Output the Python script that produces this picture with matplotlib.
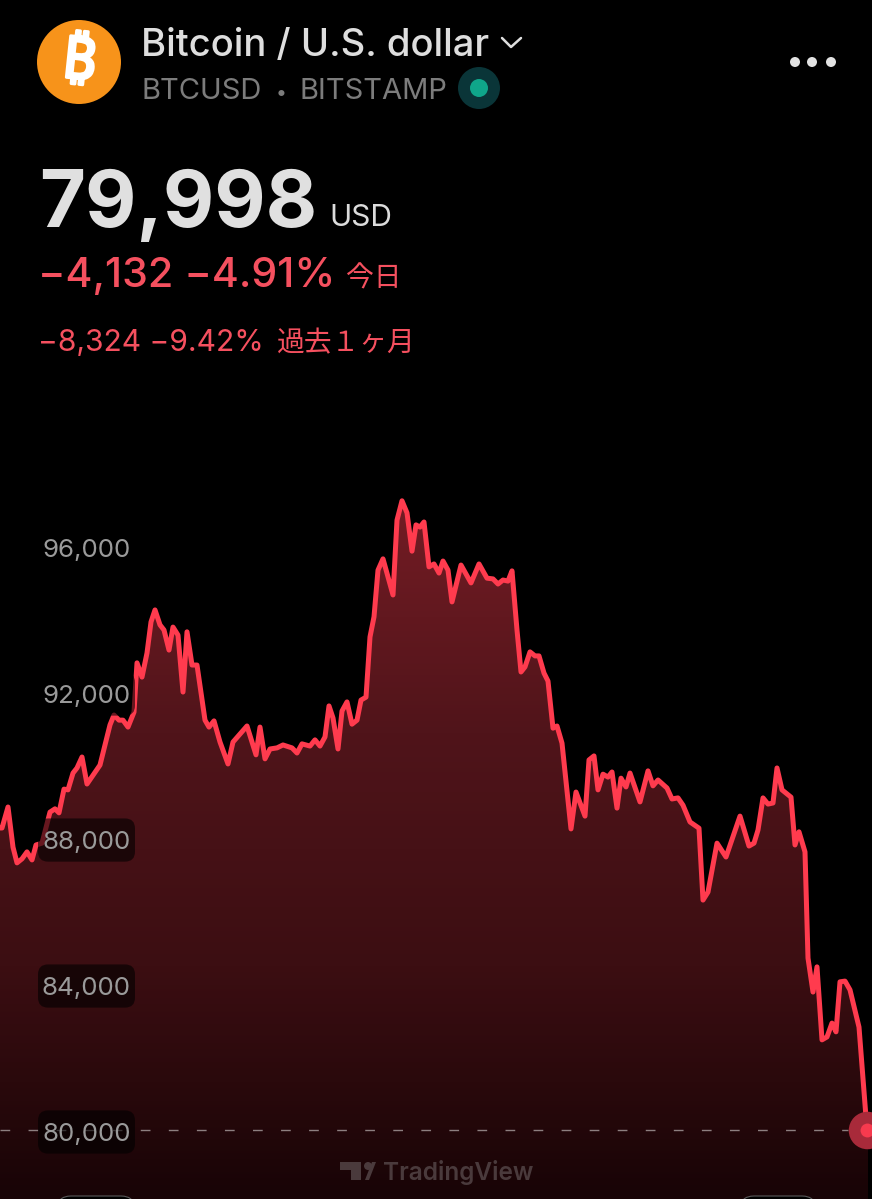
import numpy as np
import matplotlib
matplotlib.use("Agg")
import matplotlib.pyplot as plt
import matplotlib.patheffects as pe
from matplotlib.colors import LinearSegmentedColormap
from matplotlib.patches import Circle, FancyBboxPatch, Polygon
from matplotlib.transforms import ScaledTranslation

# temps (position horizontale sur le mois, 872 = largeur de l'ecran)
temps = [2, 8, 13, 17, 22, 27, 32, 36, 42, 50, 55, 59, 64, 68, 73, 77, 82, 87, 100, 110,
         114, 119, 123, 128, 134, 137, 142, 147, 151, 155, 160, 164, 169, 173, 178, 183, 187, 192, 197, 205,
         209, 214, 220, 228, 233, 247, 256, 260, 265, 270, 277, 283, 292, 297, 302, 310, 315, 320, 325, 329,
         333, 338, 342, 347, 352, 357, 361, 366, 370, 374, 378, 383, 393, 397, 402, 407, 412, 416, 420, 424,
         429, 434, 439, 443, 448, 452, 461, 471, 479, 487, 493, 498, 503, 508, 512, 517, 521, 525, 530, 535,
         539, 544, 548, 553, 557, 562, 571, 576, 585, 589, 594, 598, 603, 608, 612, 617, 621, 626, 630, 640,
         648, 653, 658, 667, 672, 678, 683, 690, 699, 703, 708, 717, 726, 740, 749, 754, 758, 763, 768, 773,
         777, 782, 791, 795, 799, 805, 808, 813, 817, 822, 827, 832, 836, 840, 845, 850, 859, 867]

prix = [88275, 88850, 87750, 87320, 87430, 87620, 87400, 87810, 87860, 88710, 88800, 88690, 89340, 89320, 89780, 89920, 90220, 89480, 90000, 91100,
        91370, 91230, 91230, 91040, 91450, 92800, 92410, 93070, 93920, 94250, 93840, 93700, 93150, 93780, 93560, 92000, 93650, 92740, 92740, 91230,
        91040, 91210, 90630, 90030, 90630, 91070, 90280, 91040, 90170, 90440, 90470, 90550, 90470, 90330, 90580, 90520, 90690, 90520, 90770, 91620,
        91290, 90440, 91480, 91730, 91120, 91230, 91780, 91860, 93510, 94060, 95340, 95650, 94660, 96710, 97240, 96910, 95860, 96580, 96520, 96660,
        95430, 95510, 95260, 95590, 95340, 94470, 95480, 94990, 95510, 95120, 95100, 94960, 95070, 95040, 95320, 93700, 92550, 92690, 93100, 92990,
        92990, 92520, 92300, 91010, 91070, 90600, 88250, 89260, 88600, 90140, 90250, 89320, 89750, 89670, 89810, 88820, 89640, 89400, 89780, 88990,
        89840, 89430, 89590, 89370, 89070, 89100, 88900, 88440, 88270, 86300, 86520, 87860, 87480, 88600, 87780, 87860, 88220, 89100, 88930, 88960,
        89920, 89320, 89120, 87810, 88170, 87620, 84710, 83780, 84470, 82470, 82550, 82930, 82690, 84060, 84080, 83840, 82820, 79998]

ticks_prix = [80000, 84000, 88000, 92000, 96000]
ticks_labels = ["80,000", "84,000", "88,000", "92,000", "96,000"]

W, H = 872, 1199
ROUGE = "#ff3b4e"
ROSE = "#f5505f"
PX_PRIX = 27.4  # dollars par pixel
Y_80000 = 1130

plt.rcParams["font.family"] = ["Inter", "Noto Sans CJK JP", "DejaVu Sans"]

fig = plt.figure(figsize=(W / 100, H / 100), dpi=100, facecolor="black")

# graphe : occupe toute la figure
ax = fig.add_axes([0, 0, 1, 1], facecolor="black")
ax.set_xlim(0, W)
ax.set_ylim(80000 - (H - Y_80000) * PX_PRIX, 80000 + Y_80000 * PX_PRIX)
for s in ax.spines.values():
    s.set_visible(False)
ax.set_xticks([])

x_bas, y_haut = ax.get_ylim()
degrade = LinearSegmentedColormap.from_list("deg", ["#180406", "#3c0e12", "#50141a", "#741c24"])
img = ax.imshow(np.linspace(1, 0, 256).reshape(-1, 1), cmap=degrade, aspect="auto",
                extent=[0, W, x_bas, 80000 + 630 * PX_PRIX], zorder=1)
ax.set_xlim(0, W)
ax.set_ylim(x_bas, y_haut)

contour = Polygon(list(zip([0] + temps + [temps[-1] + 1, temps[-1] + 1, 0],
                           [prix[0]] + prix + [prix[-1], x_bas, x_bas])),
                  closed=True, transform=ax.transData, facecolor="none", edgecolor="none")
ax.add_patch(contour)
img.set_clip_path(contour)

ax.plot([0] + temps, [prix[0]] + prix, color=ROUGE, lw=3.6, solid_joinstyle="round", zorder=1.5)

# pointilles du dernier prix
ax.plot([0, temps[-1] - 19], [prix[-1], prix[-1]], color="#8d7f80", lw=1.0,
        dashes=(7, 13.2), zorder=1.4)

# dernier point
ax.plot(temps[-1], prix[-1], "o", ms=27, color="#a82a3a", mew=0, zorder=1.6)
ax.plot(temps[-1], prix[-1], "o", ms=10, color="#f73a4e", mew=0, zorder=1.7)

# pastilles sombres derriere les labels
for p in ticks_prix:
    ax.add_patch(FancyBboxPatch((45, p - 400 - 55), 83, 800, boxstyle="round,pad=7,rounding_size=10",
                                mutation_aspect=PX_PRIX, facecolor="black", edgecolor="none",
                                alpha=0.6, zorder=2))

ax.set_axisbelow(False)
ax.set_yticks(ticks_prix, ticks_labels)
ax.tick_params(axis="y", length=0, direction="in", pad=-94, labelsize=18.7, labelcolor="#9a9a9a")
decalage = ScaledTranslation(0, -2 / 100, fig.dpi_scale_trans)
for lab in ax.get_yticklabels():
    lab.set_transform(lab.get_transform() + decalage)

# entete, en coordonnees ecran
ui = fig.add_axes([0, 0, 1, 1], facecolor="none")
ui.set_xlim(0, W)
ui.set_ylim(H, 0)
ui.axis("off")

ui.add_patch(Circle((79, 62), 42, facecolor="#f7931a", edgecolor="none"))
ui.text(79, 63, "₿", color="white", fontsize=42, fontweight="bold", rotation=-6, ha="center", va="center",
        family=["Noto Sans", "Roboto", "Open Sans", "Lato", "Liberation Sans", "DejaVu Sans"],
        path_effects=[pe.withStroke(linewidth=2.2, foreground="white")])

ui.text(141, 56, "Bitcoin / U.S. dollar", color="#dedede", fontsize=27.5, fontweight="medium", ha="left", va="baseline")
ui.plot([502, 511, 521], [38, 47, 38], color="#dedede", lw=1.8, solid_capstyle="round")
ui.text(141, 99, "BTCUSD", color="#7c7c7c", fontsize=21, ha="left", va="baseline")
ui.text(281, 99, "•", color="#7c7c7c", fontsize=14, ha="center", va="baseline")
ui.text(299, 99, "BITSTAMP", color="#7c7c7c", fontsize=21, ha="left", va="baseline")
ui.add_patch(Circle((479, 88), 21, facecolor="#0a3538", edgecolor="none"))
ui.add_patch(Circle((479, 88), 9, facecolor="#0fa68a", edgecolor="none"))
for xp in [795, 812, 831]:
    ui.add_patch(Circle((xp, 62), 5, facecolor="#e2e2e2", edgecolor="none"))

ui.text(39, 227, "79,998", color="#e0e0e0", fontsize=57, fontweight="bold", ha="left", va="baseline")
ui.text(329, 226, "USD", color="#dcdcdc", fontsize=21.5, ha="left", va="baseline")
ui.text(38, 287, "−4,132 −4.91%", color=ROSE, fontsize=29.7, fontweight="medium", ha="left", va="baseline")
ui.text(346, 287, "今日", color=ROSE, fontsize=20, ha="left", va="baseline")
ui.text(38, 351, "−8,324 −9.42%", color=ROSE, fontsize=21.6, ha="left", va="baseline")
ui.text(277, 351, "過去１ヶ月", color=ROSE, fontsize=20, ha="left", va="baseline")

# logo TradingView
ui.add_patch(Polygon([(340, 1162), (361, 1162), (361, 1180), (351, 1180), (351, 1170), (340, 1170)],
                     closed=True, facecolor="#4a3a3c", edgecolor="none"))
ui.add_patch(Circle((368, 1166), 4, facecolor="#4a3a3c", edgecolor="none"))
ui.add_patch(Polygon([(365, 1180), (372, 1162), (376, 1162), (369, 1180)],
                     closed=True, facecolor="#4a3a3c", edgecolor="none"))
ui.text(383, 1180, "TradingView", color="#4a3a3c", fontsize=17.6, fontweight="semibold", ha="left", va="baseline")

# haut des boutons coupes en bas de l'ecran
for xb, lb in [(57, 78), (740, 76)]:
    ui.add_patch(FancyBboxPatch((xb, 1196), lb, 30, boxstyle="round,pad=0,rounding_size=14",
                                facecolor="black", edgecolor="#5a5a5a", lw=0.8))

fig.savefig("out.png", dpi=100, facecolor="black")
